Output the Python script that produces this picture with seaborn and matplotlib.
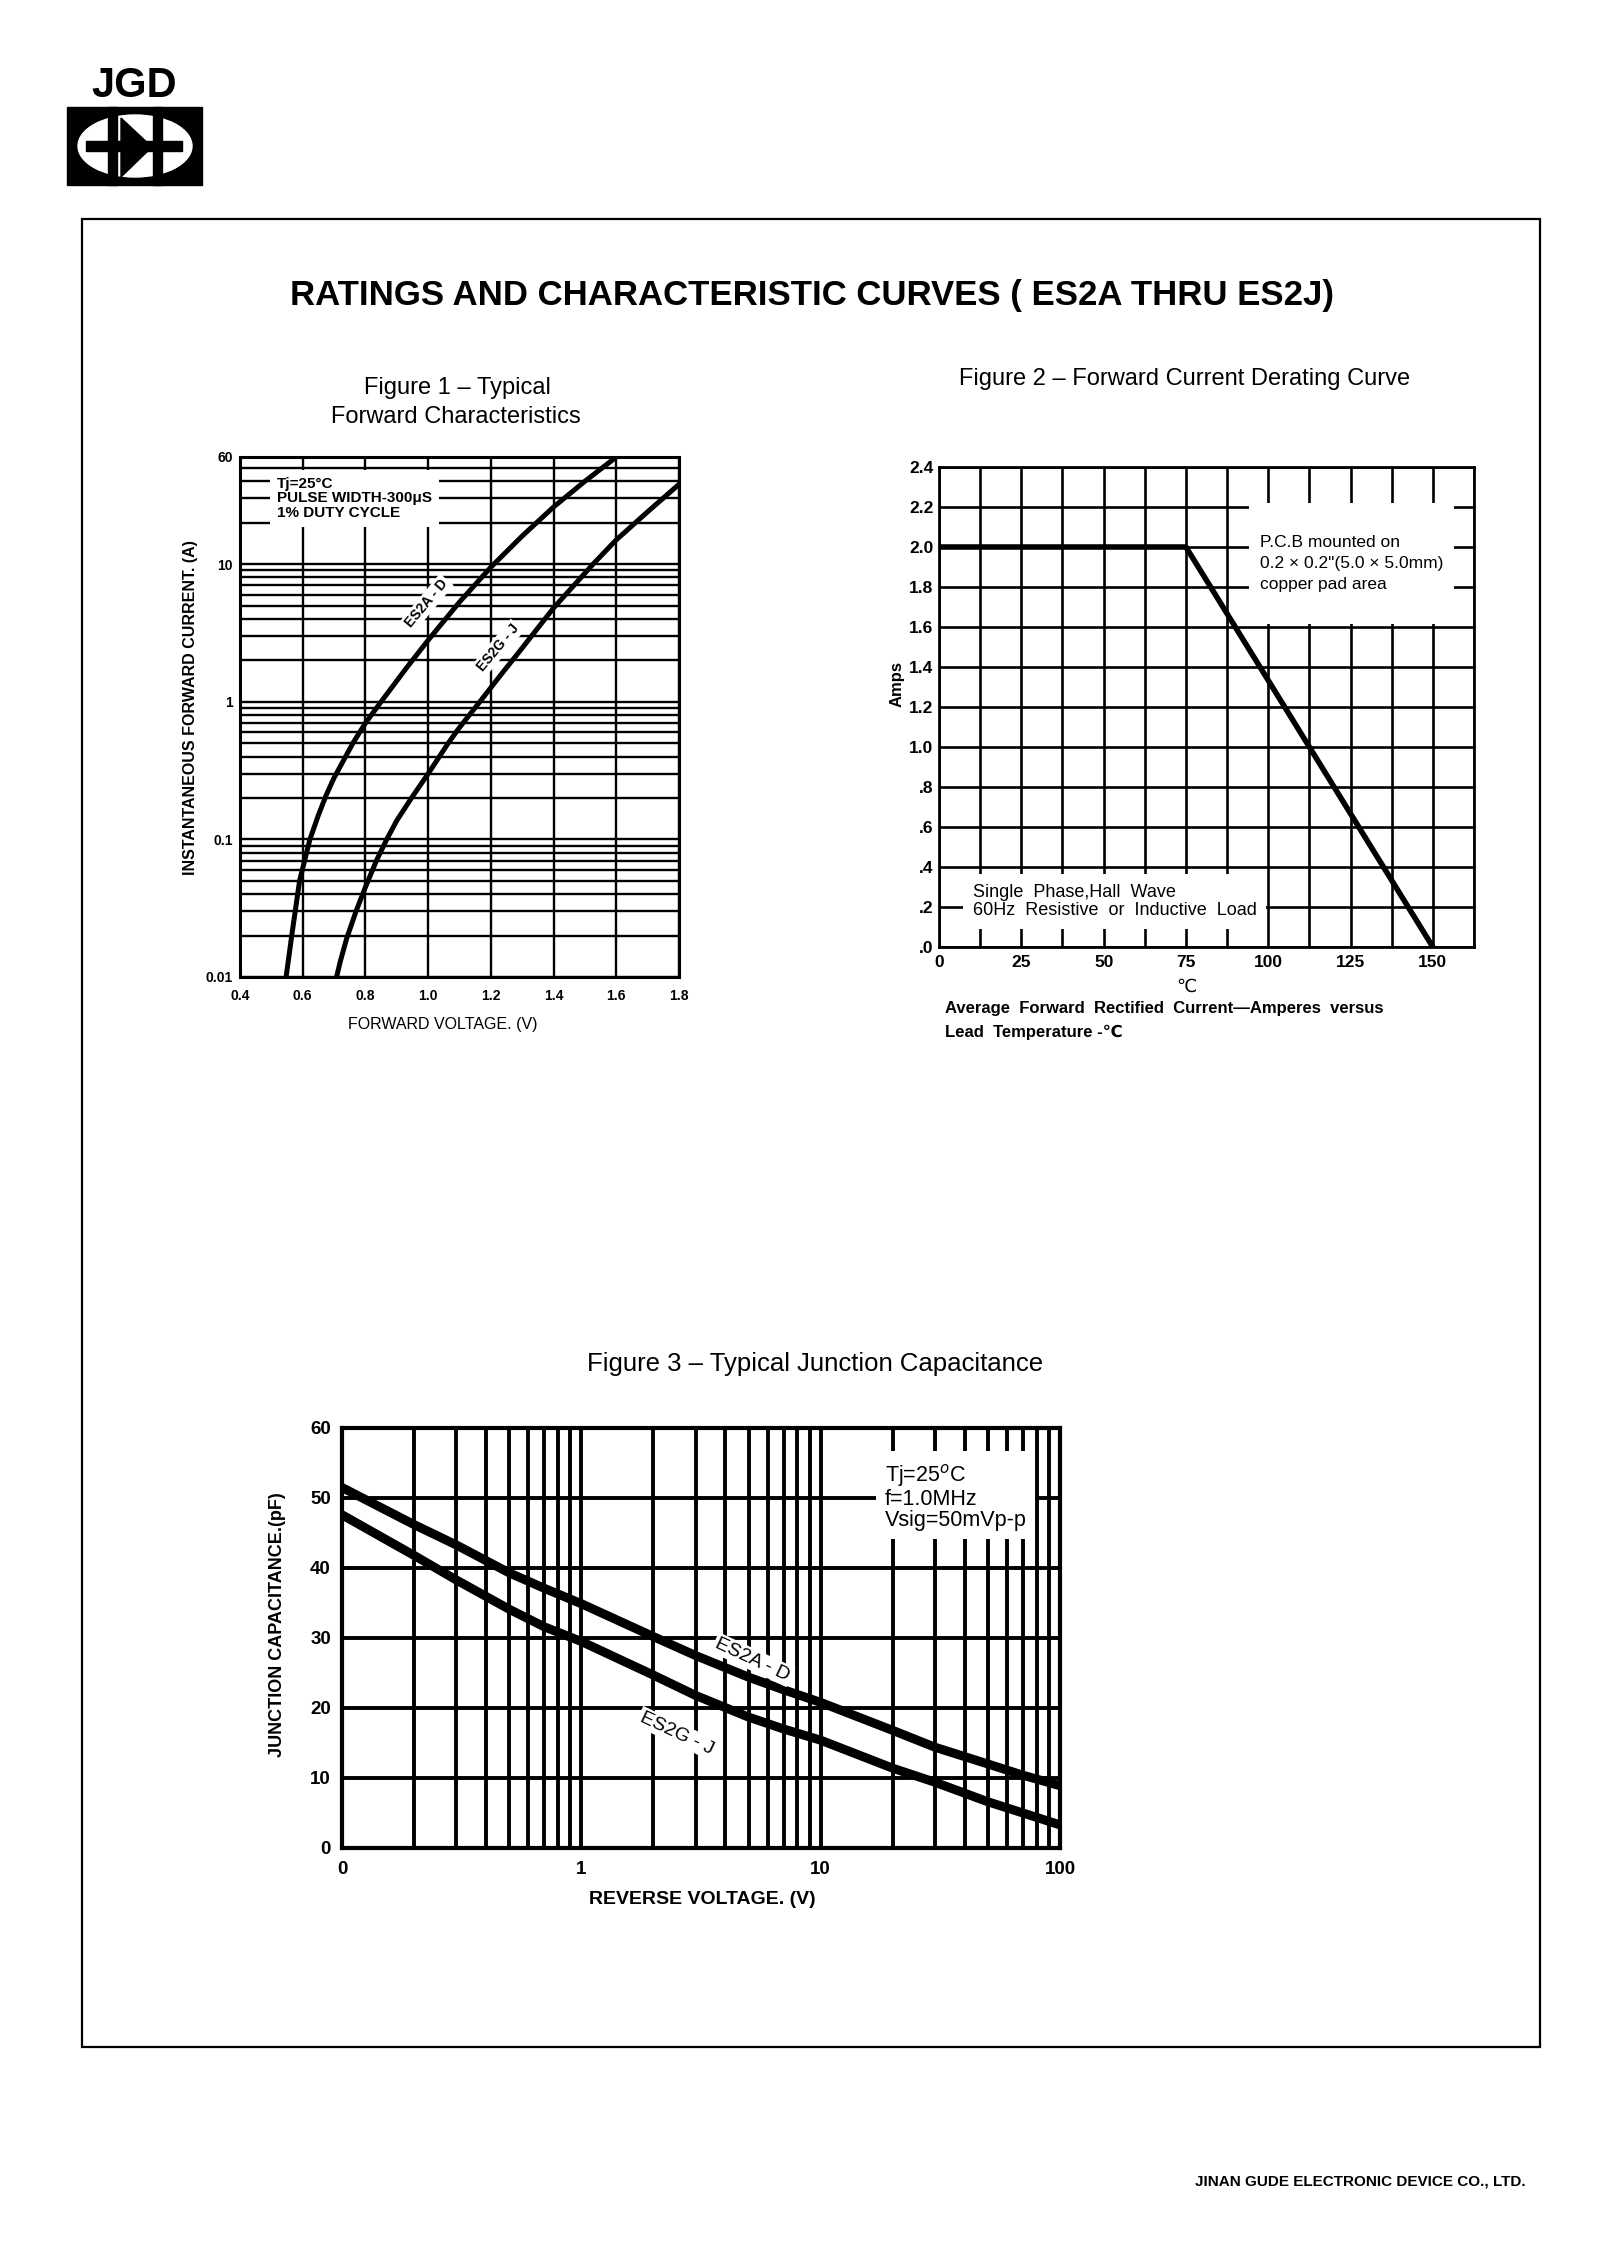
import matplotlib
matplotlib.use("Agg")
import matplotlib.pyplot as plt
import matplotlib.ticker as mticker
from matplotlib import font_manager
from matplotlib.patches import Rectangle, Ellipse, Polygon
import pandas as pd
import seaborn as sns

# Figure 1 - typical forward characteristics (forward voltage V, current A)
fwd_volt_ad = [0.547, 0.565, 0.59, 0.623, 0.65, 0.675, 0.70, 0.76, 0.80, 0.85, 0.93, 1.0, 1.1, 1.2, 1.3, 1.4, 1.5, 1.6]
fwd_amp_ad = [0.01, 0.02, 0.05, 0.1, 0.15, 0.21, 0.28, 0.5, 0.7, 1.0, 1.75, 2.8, 5.3, 9.5, 16, 26, 40, 60]
fwd_volt_gj = [0.708, 0.72, 0.74, 0.77, 0.80, 0.835, 0.868, 0.90, 0.947, 1.0, 1.064, 1.1, 1.165, 1.23, 1.29, 1.4, 1.526, 1.6, 1.7, 1.8]
fwd_amp_gj = [0.01, 0.013, 0.019, 0.03, 0.045, 0.07, 0.1, 0.137, 0.2, 0.3, 0.5, 0.65, 1.0, 1.55, 2.3, 4.8, 10, 15, 24, 38]
fwd_xticks = [0.4, 0.6, 0.8, 1.0, 1.2, 1.4, 1.6, 1.8]
fwd_xlabels = ["0.4", "0.6", "0.8", "1.0", "1.2", "1.4", "1.6", "1.8"]
fwd_yticks = [0.01, 0.1, 1, 10, 60]
fwd_ylabels = ["0.01", "0.1", "1", "10", "60"]

# Figure 2 - forward current derating curve
lead_temp = [0, 75, 150]
avg_amps = [2.0, 2.0, 0.0]
temp_ticks = [0, 25, 50, 75, 100, 125, 150]
temp_labels = ["0", "25", "50", "75", "100", "125", "150"]
amp_ticks = [0.0, 0.2, 0.4, 0.6, 0.8, 1.0, 1.2, 1.4, 1.6, 1.8, 2.0, 2.2, 2.4]
amp_labels = [".0", ".2", ".4", ".6", ".8", "1.0", "1.2", "1.4", "1.6", "1.8", "2.0", "2.2", "2.4"]

# Figure 3 - typical junction capacitance (reverse voltage V, pF)
rev_volt = [0.1, 0.2, 0.3, 0.5, 0.7, 1, 2, 3, 5, 7, 10, 20, 30, 50, 70, 100]
cap_ad = [51.5, 46.2, 43.3, 39.3, 37.1, 34.9, 30.2, 27.5, 24.4, 22.6, 20.8, 16.8, 14.4, 12.0, 10.4, 8.9]
cap_gj = [47.6, 41.8, 38.3, 34.1, 31.6, 29.5, 24.7, 21.8, 18.7, 17.0, 15.4, 11.4, 9.4, 6.6, 5.0, 3.3]
rev_ticks = [0.1, 1, 10, 100]
rev_labels = ["0", "1", "10", "100"]
cap_ticks = [0, 10, 20, 30, 40, 50, 60]

W, H = 1622, 2260

sns.set_theme(style="white")
plt.rcParams['font.family'] = ['Liberation Sans', 'DejaVu Sans']
plt.rcParams['text.color'] = 'black'
plt.rcParams['axes.edgecolor'] = 'black'
plt.rcParams['xtick.color'] = 'black'
plt.rcParams['ytick.color'] = 'black'

names = {f.name for f in font_manager.fontManager.ttflist}
if 'Liberation Sans Narrow' in names:
    narrow = ['Liberation Sans Narrow', 'DejaVu Sans']
    title_size = 29
else:
    narrow = ['Liberation Sans', 'DejaVu Sans']
    title_size = 25

fig = plt.figure(figsize=(W / 100, H / 100), dpi=100)


def box(px_l, py_t, px_r, py_b):
    return [px_l / W, 1 - py_b / H, (px_r - px_l) / W, (py_b - py_t) / H]


# page layer in pixel coords (frame, logo, headings)
bg = fig.add_axes([0, 0, 1, 1], zorder=0)
bg.set_xlim(0, W)
bg.set_ylim(H, 0)
bg.axis('off')

bg.add_patch(Rectangle((82, 219), 1458, 1828, fill=False, lw=1.6, ec='black'))
bg.add_patch(Rectangle((67, 107), 135, 78, color='black'))
bg.add_patch(Ellipse((135, 146), 114, 62, color='white'))
bg.add_patch(Rectangle((86, 141), 96, 10, color='black'))
bg.add_patch(Rectangle((108, 107), 9, 78, color='black'))
bg.add_patch(Rectangle((153, 107), 9, 78, color='black'))
bg.add_patch(Polygon([(121, 118), (121, 177), (152, 147)], color='black'))
bg.text(134, 86, "JGD", fontsize=30, fontweight='bold', ha='center', va='center')

bg.text(812, 296, "RATINGS AND CHARACTERISTIC CURVES ( ES2A THRU ES2J)",
        family=narrow, fontsize=title_size, fontweight='bold', ha='center', va='center')
bg.text(457, 388, "Figure 1 – Typical", fontsize=17, ha='center', va='center')
bg.text(456, 417, "Forward Characteristics", fontsize=17, ha='center', va='center')
bg.text(1185, 379, "Figure 2 – Forward Current Derating Curve", fontsize=17, ha='center', va='center')
bg.text(815, 1364, "Figure 3 – Typical Junction Capacitance", family=narrow, fontsize=18.5,
        ha='center', va='center')
bg.text(1360, 2181, "JINAN GUDE ELECTRONIC DEVICE CO., LTD.", fontsize=11, fontweight='bold',
        ha='center', va='center')

# ---------------- Figure 1 ----------------
ax1 = fig.add_axes(box(240, 457, 679, 977), zorder=2)
df1 = pd.DataFrame({
    'volt': fwd_volt_ad + fwd_volt_gj,
    'amp': fwd_amp_ad + fwd_amp_gj,
    'part': ['ES2A-D'] * len(fwd_volt_ad) + ['ES2G-J'] * len(fwd_volt_gj),
})
sns.lineplot(data=df1, x='volt', y='amp', hue='part', palette=['black', 'black'],
             estimator=None, sort=False, lw=3.6, legend=False, ax=ax1, zorder=4)
ax1.set_yscale('log')
ax1.set_xlim(0.4, 1.8)
ax1.set_ylim(0.01, 60)
ax1.set_xticks(fwd_xticks, fwd_xlabels, fontweight='bold')
ax1.set_yticks(fwd_yticks, fwd_ylabels, fontweight='bold')
ax1.yaxis.set_minor_locator(mticker.LogLocator(base=10, subs=[2, 3, 4, 5, 6, 7, 8, 9]))
ax1.yaxis.set_minor_formatter(mticker.NullFormatter())
ax1.tick_params(which='both', length=0, labelsize=10)
ax1.tick_params(axis='x', pad=9)
ax1.tick_params(axis='y', pad=5)
ax1.grid(which='both', axis='y', color='black', lw=1.7)
ax1.grid(which='major', axis='x', color='black', lw=1.7)
ax1.set_axisbelow(True)
ax1.set_xlabel('')
ax1.set_ylabel('')
for s in ax1.spines.values():
    s.set_linewidth(2.2)
ax1.text(0.084, 0.962, "Tj=25°C\nPULSE WIDTH-300μS\n1% DUTY CYCLE", transform=ax1.transAxes,
         fontsize=11, fontweight='bold', ha='left', va='top', linespacing=1.05,
         bbox=dict(facecolor='white', edgecolor='none', pad=5), zorder=5)
ax1.text(0.996, 5.2, "ES2A - D", rotation=50, fontsize=10, fontweight='bold',
         ha='center', va='center', bbox=dict(facecolor='white', edgecolor='none', pad=1.5), zorder=5)
ax1.text(1.223, 2.46, "ES2G - J", rotation=50, fontsize=10, fontweight='bold',
         ha='center', va='center', bbox=dict(facecolor='white', edgecolor='none', pad=1.5), zorder=5)
bg.text(190, 708, "INSTANTANEOUS FORWARD CURRENT. (A)", rotation=90, fontsize=11.5,
        fontweight='bold', ha='center', va='center')
bg.text(443, 1025, "FORWARD VOLTAGE. (V)", fontsize=11.5, ha='center', va='center')

# ---------------- Figure 2 ----------------
ax2 = fig.add_axes(box(939, 467, 1474, 947), zorder=2)
sns.lineplot(x=lead_temp, y=avg_amps, color='black', lw=4.0, estimator=None, sort=False,
             ax=ax2, zorder=4)
ax2.set_xlim(0, 162.5)
ax2.set_ylim(0, 2.4)
ax2.set_xticks(temp_ticks, temp_labels, fontweight='bold')
ax2.set_yticks(amp_ticks, amp_labels, fontweight='bold')
ax2.xaxis.set_minor_locator(mticker.MultipleLocator(12.5))
ax2.tick_params(which='both', length=0, labelsize=12.5)
ax2.tick_params(axis='x', pad=6)
ax2.tick_params(axis='y', pad=4)
ax2.grid(which='both', axis='x', color='black', lw=1.9)
ax2.grid(which='major', axis='y', color='black', lw=1.9)
ax2.set_axisbelow(True)
for s in ax2.spines.values():
    s.set_linewidth(2.0)
ax2.text(0.6, 0.902, " \nP.C.B mounted on\n0.2 × 0.2\"(5.0 × 5.0mm)\ncopper pad area\n ",
         transform=ax2.transAxes, fontsize=12.5, ha='left', va='top', linespacing=1.5,
         bbox=dict(facecolor='white', edgecolor='none', pad=8), zorder=5)
ax2.text(0.063, 0.095, "Single  Phase,Hall  Wave\n60Hz  Resistive  or  Inductive  Load",
         transform=ax2.transAxes, fontsize=13, ha='left', va='center', linespacing=1.1,
         bbox=dict(facecolor='white', edgecolor='none', pad=7), zorder=5)
bg.text(897, 684, "Amps", rotation=90, fontsize=12, fontweight='bold', ha='center', va='center')
bg.text(1186, 987, "℃", fontsize=13, ha='center', va='center')
bg.text(945, 1009, "Average  Forward  Rectified  Current—Amperes  versus", fontsize=12,
        fontweight='bold', ha='left', va='center')
bg.text(945, 1032, "Lead  Temperature -℃", fontsize=12, fontweight='bold', ha='left', va='center')

# ---------------- Figure 3 ----------------
ax3 = fig.add_axes(box(342, 1428, 1060, 1848), zorder=2)
df3 = pd.DataFrame({
    'volt': rev_volt + rev_volt,
    'cap': cap_ad + cap_gj,
    'part': ['ES2A-D'] * len(rev_volt) + ['ES2G-J'] * len(rev_volt),
})
sns.lineplot(data=df3, x='volt', y='cap', hue='part', palette=['black', 'black'],
             estimator=None, sort=False, lw=6.5, legend=False, ax=ax3, zorder=4)
ax3.set_xscale('log')
ax3.set_xlim(0.1, 100)
ax3.set_ylim(0, 60)
ax3.set_xticks(rev_ticks, rev_labels, family=narrow, fontweight='bold')
ax3.set_yticks(cap_ticks, [str(t) for t in cap_ticks], family=narrow, fontweight='bold')
ax3.xaxis.set_minor_locator(mticker.LogLocator(base=10, subs=[2, 3, 4, 5, 6, 7, 8, 9]))
ax3.xaxis.set_minor_formatter(mticker.NullFormatter())
ax3.tick_params(which='both', length=0, labelsize=13.5)
ax3.tick_params(axis='x', pad=9)
ax3.tick_params(axis='y', pad=8)
ax3.grid(which='both', axis='x', color='black', lw=2.8)
ax3.grid(which='major', axis='y', color='black', lw=2.8)
ax3.set_axisbelow(True)
ax3.set_xlabel('')
ax3.set_ylabel('')
for s in ax3.spines.values():
    s.set_linewidth(3.0)
ax3.text(0.756, 0.919, "Tj=25$^o$C\nf=1.0MHz\nVsig=50mVp-p", transform=ax3.transAxes,
         family=narrow, fontsize=15.5, ha='left', va='top', linespacing=1.0,
         bbox=dict(facecolor='white', edgecolor='none', pad=6), zorder=5)
ax3.text(5.2, 26.9, "ES2A - D", rotation=-25, family=narrow, fontsize=14, ha='center', va='center',
         bbox=dict(facecolor='white', edgecolor='none', pad=1.5), zorder=5)
ax3.text(2.5, 16.4, "ES2G - J", rotation=-25, family=narrow, fontsize=14, ha='center', va='center',
         bbox=dict(facecolor='white', edgecolor='none', pad=1.5), zorder=5)
bg.text(278, 1625, "JUNCTION CAPACITANCE.(pF)", rotation=90, fontsize=13, fontweight='bold',
        ha='center', va='center')
bg.text(702, 1900, "REVERSE VOLTAGE. (V)", family=narrow, fontsize=14, fontweight='bold',
        ha='center', va='center')

fig.savefig("out.png", dpi=100, facecolor='white')
